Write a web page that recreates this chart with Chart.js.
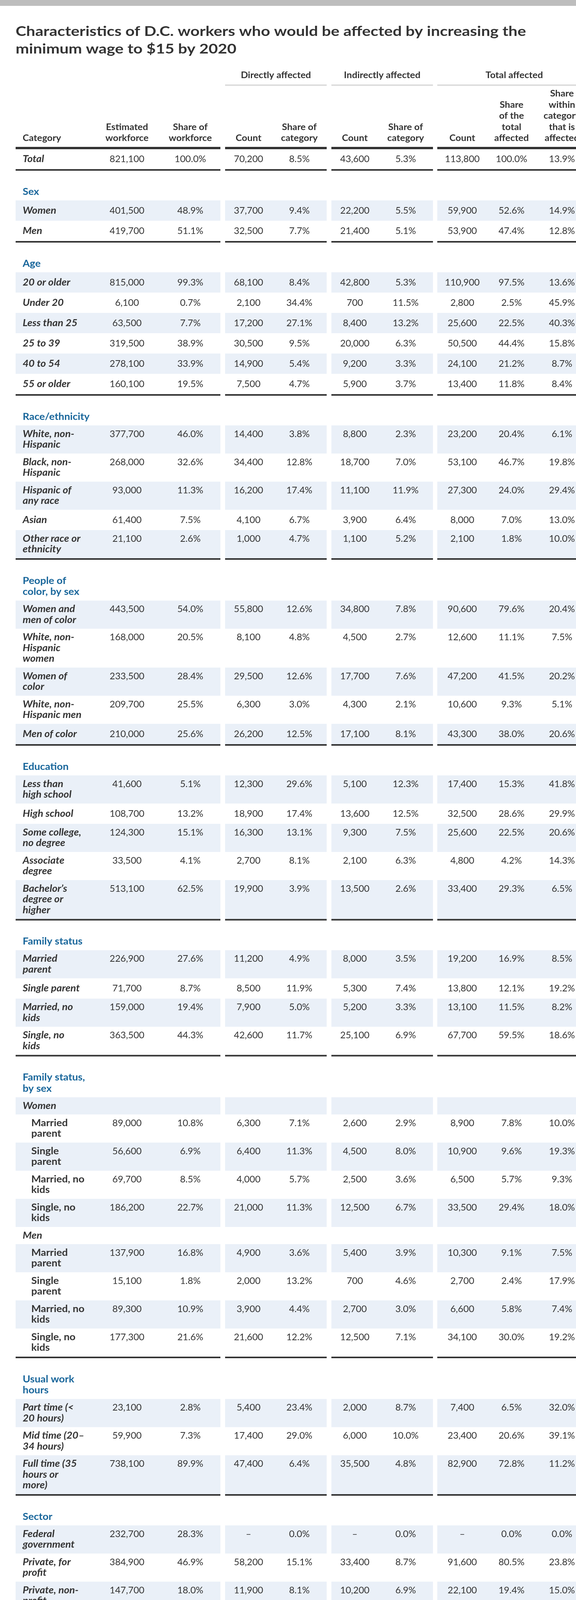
<!DOCTYPE html>
<html>
<head>
<meta charset="utf-8">
<script src="https://cdn.jsdelivr.net/npm/chart.js@4.4.1/dist/chart.umd.min.js"></script>
<style>
html,body{margin:0;padding:0;background:#ffffff;}
#wrap{width:1474px;height:5745px;overflow:hidden;}
canvas{display:block;}
</style>
</head>
<body>
<div id="wrap"><canvas id="c" width="1474" height="5745"></canvas></div>
<script>
// ---------------- DATA ----------------
const titleLines = ['Characteristics of D.C. workers who would be affected by increasing the', 'minimum wage to $15 by 2020'];
const groupHeaders = ['Directly affected', 'Indirectly affected', 'Total affected'];
const categoryHeader = 'Category';
const columnHeaders = ['Estimated\nworkforce', 'Share of\nworkforce', 'Count', 'Share of\ncategory', 'Count', 'Share of\ncategory', 'Count', 'Share\nof the\ntotal\naffected', 'Share\nwithin\ncategory\nthat is\naffected'];
const columnIsPercent = [false, true, false, true, false, true, false, true, true];

const totalLabel = 'Total';
const totalValues = [821100, 100.0, 70200, 8.5, 43600, 5.3, 113800, 100.0, 13.9];

const sectionLabels = ['Sex', 'Age', 'Race/ethnicity', 'People of\ncolor, by sex', 'Education', 'Family status', 'Family status,\nby sex', 'Usual work\nhours', 'Sector', 'Household\nincome', 'Poverty\nstatus'];

const categories = [
  'Women', 'Men',
  '20 or older', 'Under 20', 'Less than 25', '25 to 39', '40 to 54', '55 or older',
  'White, non-\nHispanic', 'Black, non-\nHispanic', 'Hispanic of\nany race', 'Asian', 'Other race or\nethnicity',
  'Women and\nmen of color', 'White, non-\nHispanic\nwomen', 'Women of\ncolor', 'White, non-\nHispanic men', 'Men of color',
  'Less than\nhigh school', 'High school', 'Some college,\nno degree', 'Associate\ndegree', 'Bachelor\u2019s\ndegree or\nhigher',
  'Married\nparent', 'Single parent', 'Married, no\nkids', 'Single, no\nkids',
  'Women', 'Married\nparent', 'Single\nparent', 'Married, no\nkids', 'Single, no\nkids',
  'Men', 'Married\nparent', 'Single\nparent', 'Married, no\nkids', 'Single, no\nkids',
  'Part time (<\n20 hours)', 'Mid time (20\u2013\n34 hours)', 'Full time (35\nhours or\nmore)',
  'Federal\ngovernment', 'Private, for\nprofit', 'Private, non-\nprofit', 'State and\nlocal\ngovernment',
  'Less than\n$25,000', '$25,000\u2013\n$49,999', '$50,000\u2013\n$74,999', '$75,000\u2013\n$99,999', '$100,000\u2013\n$149,999', '$150,000 or\nmore',
  'In poverty', '101\u2013200%\npoverty', '201\u2013300%\npoverty', '301\u2013400%\npoverty', '400%+\npoverty', 'Missing\npoverty\nstatus'
];
// section index of each row
const rowSection = [0,0, 1,1,1,1,1,1, 2,2,2,2,2, 3,3,3,3,3, 4,4,4,4,4, 5,5,5,5, 6,6,6,6,6,6,6,6,6,6, 7,7,7, 8,8,8,8, 9,9,9,9,9,9, 10,10,10,10,10,10];
// 0 = normal row, 1 = sub-item, -1 = sub-group heading
const rowLevel = [0,0, 0,0,0,0,0,0, 0,0,0,0,0, 0,0,0,0,0, 0,0,0,0,0, 0,0,0,0, -1,1,1,1,1,-1,1,1,1,1, 0,0,0, 0,0,0,0, 0,0,0,0,0,0, 0,0,0,0,0,0];

const workforce = [401500,419700, 815000,6100,63500,319500,278100,160100, 377700,268000,93000,61400,21100, 443500,168000,233500,209700,210000, 41600,108700,124300,33500,513100, 226900,71700,159000,363500, null,89000,56600,69700,186200,null,137900,15100,89300,177300, 23100,59900,738100, 232700,384900,147700,55800, 29600,76900,98400,101400,189000,325800, 24000,53400,61000,79000,595800,8100];
const workforceShare = [48.9,51.1, 99.3,0.7,7.7,38.9,33.9,19.5, 46.0,32.6,11.3,7.5,2.6, 54.0,20.5,28.4,25.5,25.6, 5.1,13.2,15.1,4.1,62.5, 27.6,8.7,19.4,44.3, null,10.8,6.9,8.5,22.7,null,16.8,1.8,10.9,21.6, 2.8,7.3,89.9, 28.3,46.9,18.0,6.8, 3.6,9.4,12.0,12.3,23.0,39.7, 2.9,6.5,7.4,9.6,72.6,1.0];
const directCount = [37700,32500, 68100,2100,17200,30500,14900,7500, 14400,34400,16200,4100,1000, 55800,8100,29500,6300,26200, 12300,18900,16300,2700,19900, 11200,8500,7900,42600, null,6300,6400,4000,21000,null,4900,2000,3900,21600, 5400,17400,47400, 0,58200,11900,0, 11400,15200,14500,8200,8400,12500, 10400,17400,16500,8300,15000,2600];
const directShare = [9.4,7.7, 8.4,34.4,27.1,9.5,5.4,4.7, 3.8,12.8,17.4,6.7,4.7, 12.6,4.8,12.6,3.0,12.5, 29.6,17.4,13.1,8.1,3.9, 4.9,11.9,5.0,11.7, null,7.1,11.3,5.7,11.3,null,3.6,13.2,4.4,12.2, 23.4,29.0,6.4, 0.0,15.1,8.1,0.0, 38.5,19.8,14.7,8.1,4.4,3.8, 43.3,32.6,27.0,10.5,2.5,32.1];
const indirectCount = [22200,21400, 42800,700,8400,20000,9200,5900, 8800,18700,11100,3900,1100, 34800,4500,17700,4300,17100, 5100,13600,9300,2100,13500, 8000,5300,5200,25100, null,2600,4500,2500,12500,null,5400,700,2700,12500, 2000,6000,35500, 0,33400,10200,0, 3500,11800,7700,7300,7500,5800, 1400,10100,10100,8700,12300,1000];
const indirectShare = [5.5,5.1, 5.3,11.5,13.2,6.3,3.3,3.7, 2.3,7.0,11.9,6.4,5.2, 7.8,2.7,7.6,2.1,8.1, 12.3,12.5,7.5,6.3,2.6, 3.5,7.4,3.3,6.9, null,2.9,8.0,3.6,6.7,null,3.9,4.6,3.0,7.1, 8.7,10.0,4.8, 0.0,8.7,6.9,0.0, 11.8,15.3,7.8,7.2,4.0,1.8, 5.8,18.9,16.6,11.0,2.1,12.3];
const totalCount = [59900,53900, 110900,2800,25600,50500,24100,13400, 23200,53100,27300,8000,2100, 90600,12600,47200,10600,43300, 17400,32500,25600,4800,33400, 19200,13800,13100,67700, null,8900,10900,6500,33500,null,10300,2700,6600,34100, 7400,23400,82900, 0,91600,22100,0, 14900,27000,22200,15500,15900,18300, 11800,27500,26600,17000,27300,3600];
const totalShare = [52.6,47.4, 97.5,2.5,22.5,44.4,21.2,11.8, 20.4,46.7,24.0,7.0,1.8, 79.6,11.1,41.5,9.3,38.0, 15.3,28.6,22.5,4.2,29.3, 16.9,12.1,11.5,59.5, null,7.8,9.6,5.7,29.4,null,9.1,2.4,5.8,30.0, 6.5,20.6,72.8, 0.0,80.5,19.4,0.0, 13.1,23.7,19.5,13.6,14.0,16.1, 10.4,24.2,23.4,14.9,24.0,3.2];
const shareWithin = [14.9,12.8, 13.6,45.9,40.3,15.8,8.7,8.4, 6.1,19.8,29.4,13.0,10.0, 20.4,7.5,20.2,5.1,20.6, 41.8,29.9,20.6,14.3,6.5, 8.5,19.2,8.2,18.6, null,10.0,19.3,9.3,18.0,null,7.5,17.9,7.4,19.2, 32.0,39.1,11.2, 0.0,23.8,15.0,0.0, 50.3,35.1,22.6,15.3,8.4,5.6, 49.2,51.5,43.6,21.5,4.6,44.4];

const childHeaders = ['Children in\nhouseholds\nwith a D.C.\nworker', 'Child has directly\naffected parents', 'Child has indirectly\naffected parents', 'Total children with\naffected parents', 'Share of children'];
const childLabel = 'Children with\nat least one\naffected\nparent';
const childValues = [425100, 54400, 26500, 80900, 19.0];
const childIsPercent = [false, false, false, false, true];

const sourceLabel = 'Source:';
const sourceLines = [' EPI analysis of District of Columbia Minimum Wage Amendment Act of 2016 using American Community Survey', 'microdata'];
const brand = 'Economic Policy Institute';

// ---------------- LAYOUT / STYLE ----------------
const W = 1474, H = 5745;
const valueColumns = [workforce, workforceShare, directCount, directShare, indirectCount, indirectShare, totalCount, totalShare, shareWithin];
const geom = {
  groups: [[40,564],[576,836],[848,1108],[1119,1513]],
  colX: [325,487,636,766,908,1038,1183,1309,1438],
  childX: [325,555,833,1107,1377],
  catX: 58, subX: 80,
  titleWidth: 1306, sourceWidth: 1340
};
const ink = '#333333', blue = '#17659a', band = '#eaf0f8', rule = '#333333', soft = '#dddddd', frame = '#bdbdbd';
const FF = 'Lato, "Open Sans", "DejaVu Sans", sans-serif';
const BOLD_STRETCH = 1.1;

function fmt(v, pct) {
  if (v === null || v === undefined) return '';
  if (pct) return v.toFixed(1) + '%';
  if (v === 0) return '\u2013';
  return v.toLocaleString('en-US');
}

const tablePlugin = {
  id: 'tableCells',
  afterDraw(chart) {
    const ctx = chart.ctx, xs = chart.scales.x, ys = chart.scales.y;
    const X = v => xs.getPixelForValue(v), Y = v => ys.getPixelForValue(v);
    ctx.save();
    const rect = (x0, y0, x1, y1, c) => { const a = X(x0), b = Y(y0); ctx.fillStyle = c; ctx.fillRect(a, b, X(x1) - a, Y(y1) - b); };
    const text = (s, x, y, font, color, align, base, sx) => {
      ctx.font = font; ctx.fillStyle = color; ctx.textAlign = align || 'left'; ctx.textBaseline = base || 'middle';
      const px = X(x), py = Y(y);
      if (sx && sx !== 1) {
        ctx.save(); ctx.translate(px, py); ctx.scale(sx, 1); ctx.fillText(s, 0, 0); ctx.restore();
      } else ctx.fillText(s, px, py);
    };
    const measure = (s, font) => { ctx.font = font; return ctx.measureText(s).width; };
    const segs = (y0, y1, c) => geom.groups.forEach(g => rect(g[0], y0, g[1], y1, c));
    const HB = 'bold 22px ' + FF, LB = 'italic bold 24px ' + FF, SB = 'bold 24px ' + FF, NUM = '24px ' + FF;

    // frame bars
    rect(0, 0, W, 15, frame);
    rect(0, 5740, W, 5745, frame);

    // title
    const TF = 'bold 34px ' + FF;
    const tsx = geom.titleWidth / measure(titleLines[0], TF);
    titleLines.forEach((t, i) => text(t, 40, 92 + i * 45, TF, ink, 'left', 'alphabetic', tsx));

    // group headers
    groupHeaders.forEach((h, i) => {
      const g = geom.groups[i + 1];
      text(h, (g[0] + g[1]) / 2, 193, HB, ink, 'center', 'middle', BOLD_STRETCH);
      rect(g[0], 216, g[1], 220, soft);
    });

    // column headers (bottom aligned)
    const hb = 354, lh = 28.5;
    text(categoryHeader, geom.catX, hb, HB, ink, 'left', 'middle', BOLD_STRETCH);
    columnHeaders.forEach((h, c) => {
      const ls = h.split('\n');
      ls.forEach((l, i) => text(l, geom.colX[c], hb - (ls.length - 1 - i) * lh, HB, ink, 'center', 'middle', BOLD_STRETCH));
    });
    segs(376, 382, rule);

    // total row
    text(totalLabel, geom.catX, 407, LB, ink, 'left', 'middle', BOLD_STRETCH);
    totalValues.forEach((v, c) => text(fmt(v, columnIsPercent[c]), geom.colX[c], 407, NUM, ink, 'center'));
    segs(433, 437, rule);

    // sections
    let y = 437;
    sectionLabels.forEach((sl, s) => {
      const lab = sl.split('\n');
      const cy = y + 54;
      lab.forEach((l, i) => text(l, geom.catX, cy + i * 28.5, SB, blue, 'left', 'middle', BOLD_STRETCH));
      let top = cy + (lab.length - 1) * 28.5 + 22;
      let k = 0;
      categories.forEach((cat, r) => {
        if (rowSection[r] !== s) return;
        const ls = cat.split('\n');
        const lvl = rowLevel[r];
        const h = lvl < 0 ? 44 : (ls.length === 1 ? 52 : 27.5 * ls.length + 17);
        if (k % 2 === 0) segs(top, top + h, band);
        const first = ls.length === 1 ? top + h / 2 : top + 22.25;
        const lx = lvl > 0 ? geom.subX : geom.catX;
        const lf = lvl > 0 ? SB : LB;
        ls.forEach((l, i) => text(l, lx, first + i * 27.5, lf, ink, 'left', 'middle', BOLD_STRETCH));
        valueColumns.forEach((col, c) => {
          const v = col[r];
          if (v === null || v === undefined) return;
          text(fmt(v, columnIsPercent[c]), geom.colX[c], first, NUM, ink, 'center');
        });
        top += h; k++;
      });
      segs(top, top + 4, rule);
      y = top + 4;
    });

    // children table
    const cb = y + 107;
    childHeaders.forEach((h, c) => {
      const ls = h.split('\n');
      ls.forEach((l, i) => text(l, geom.childX[c], cb - (ls.length - 1 - i) * 28, HB, ink, 'center', 'middle', BOLD_STRETCH));
    });
    rect(40, cb + 22, 1513, cb + 25, soft);
    const ctop = cb + 25;
    const cls = childLabel.split('\n');
    const ch = 27.5 * cls.length + 17;
    rect(40, ctop, 1513, ctop + ch, band);
    cls.forEach((l, i) => text(l, geom.catX, ctop + 22.25 + i * 27.5, LB, ink, 'left', 'middle', BOLD_STRETCH));
    childValues.forEach((v, c) => text(fmt(v, childIsPercent[c]), geom.childX[c], ctop + 22.25, NUM, ink, 'center'));
    rect(40, ctop + ch, 1513, ctop + ch + 4, rule);

    // source
    const sy = ctop + ch + 47;
    const SF = 'bold 22px ' + FF, RF = '22px ' + FF;
    const sw = measure(sourceLabel, SF), rw = measure(sourceLines[0], RF);
    const ssx = geom.sourceWidth / (sw + rw);
    text(sourceLabel, 40, sy, SF, ink, 'left', 'middle', ssx);
    text(sourceLines[0], 40 + sw * ssx, sy, RF, ink, 'left', 'middle', ssx);
    text(sourceLines[1], 40, sy + 32, RF, ink, 'left', 'middle', ssx);

    // brand
    ctx.font = 'bold 32px "Liberation Serif", "DejaVu Serif", serif';
    ctx.fillStyle = '#111111'; ctx.textAlign = 'right'; ctx.textBaseline = 'middle';
    ctx.fillText(brand, X(1452), Y(5707), 307);
    ctx.restore();
  }
};

new Chart(document.getElementById('c'), {
  type: 'scatter',
  data: { datasets: [{ data: [], pointRadius: 0 }] },
  options: {
    responsive: false,
    animation: false,
    devicePixelRatio: 1,
    layout: { padding: 0 },
    plugins: { legend: { display: false }, tooltip: { enabled: false }, title: { display: false } },
    scales: {
      x: { type: 'linear', min: 0, max: W, display: false },
      y: { type: 'linear', min: 0, max: H, reverse: true, display: false }
    }
  },
  plugins: [tablePlugin]
});
</script>
</body>
</html>
